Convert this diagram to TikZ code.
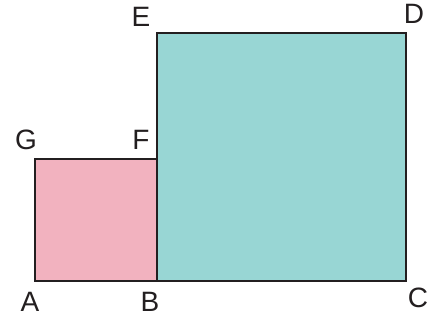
\documentclass[tikz,border=0pt]{standalone}
\usepackage{fontspec}
\setmainfont{Liberation Sans}
\definecolor{pinkfill}{HTML}{F2B2BF}
\definecolor{tealfill}{HTML}{98D6D4}
\definecolor{edgegray}{HTML}{231F20}
\tikzset{
  smallsq/.style={draw=edgegray, fill=pinkfill, line width=2.6pt, line join=miter},
  bigsq/.style={draw=edgegray, fill=tealfill, line width=2.6pt, line join=miter},
  corner/.style={inner sep=0pt, font=\fontsize{28}{30}\selectfont, text=edgegray}
}
\begin{document}
\begin{tikzpicture}[x=1pt, y=-1pt]
  \useasboundingbox (0,0) rectangle (434,325);
  \coordinate (A) at (35,281);
  \coordinate (B) at (157,281);
  \coordinate (C) at (406,281);
  \coordinate (D) at (406,33);
  \coordinate (E) at (157,33);
  \coordinate (F) at (157,159);
  \coordinate (G) at (35,159);

  \draw[bigsq] (B) -- (C) -- (D) -- (E) -- cycle;
  \draw[smallsq] (A) -- (B) -- (F) -- (G) -- cycle;

  \node[corner] (lA) at (30,302) {A};
  \node[corner] (lB) at (150,302) {B};
  \node[corner] (lC) at (418,298) {C};
  \node[corner] (lD) at (414,14) {D};
  \node[corner] (lE) at (141,17) {E};
  \node[corner] (lF) at (141,140) {F};
  \node[corner] (lG) at (26,140) {G};
\end{tikzpicture}
\end{document}
